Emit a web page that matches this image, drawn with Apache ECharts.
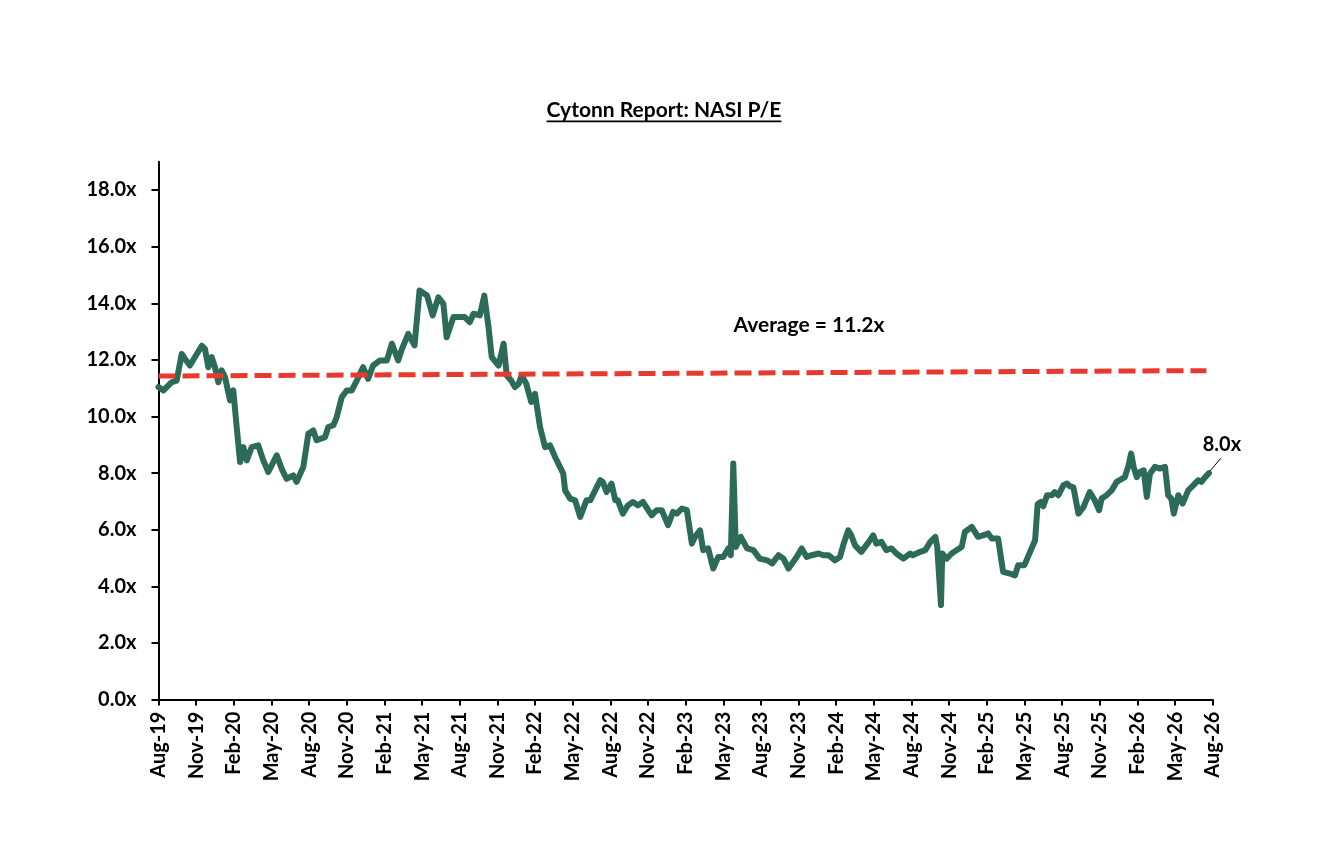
<!DOCTYPE html>
<html>
<head>
<meta charset="utf-8">
<script src="https://cdn.jsdelivr.net/npm/echarts@6/dist/echarts.min.js"></script>
<style>
html, body { margin: 0; padding: 0; background: #fff; }
#chart { width: 1320px; height: 842px; }
</style>
</head>
<body>
<div id="chart"></div>
<script>
// quarter tick labels, one every 3 months from Aug-19
var tickLabels = ["Aug-19", "Nov-19", "Feb-20", "May-20", "Aug-20", "Nov-20", "Feb-21", "May-21", "Aug-21",
	"Nov-21", "Feb-22", "May-22", "Aug-22", "Nov-22", "Feb-23", "May-23", "Aug-23", "Nov-23", "Feb-24",
	"May-24", "Aug-24", "Nov-24", "Feb-25", "May-25", "Aug-25", "Nov-25", "Feb-26", "May-26", "Aug-26"];

// months since Aug-19
var monthIdx = [0, 0.4, 1.05, 1.45, 1.85, 2.1, 2.5, 3.45, 3.7, 3.97, 4.24, 4.5, 4.77, 5.03, 5.3, 5.7, 5.96,
	6.23, 6.5, 6.76, 7.03, 7.43, 7.95, 8.35, 8.75, 9.42, 9.81, 10.2, 10.74, 11.0, 11.54, 11.94, 12.33, 12.6,
	13.27, 13.53, 13.93, 14.2, 14.6, 15.0, 15.4, 15.8, 16.3, 16.7, 17.1, 17.65, 18.2, 18.6, 19.1, 19.4, 19.9,
	20.4, 20.8, 21.4, 21.85, 22.3, 22.7, 22.96, 23.5, 24.0, 24.4, 24.8, 25.1, 25.6, 25.96, 26.3, 26.55, 27.1,
	27.5, 27.75, 28.1, 28.4, 28.7, 28.95, 29.3, 29.7, 30.0, 30.4, 30.8, 31.2, 31.6, 32.25, 32.4, 32.8, 33.2,
	33.6, 34.1, 34.4, 35.2, 35.4, 35.7, 36.1, 36.4, 36.6, 37.0, 37.4, 37.8, 38.2, 38.6, 39.3, 39.7, 40.1,
	40.6, 41.0, 41.3, 41.7, 42.1, 42.5, 42.75, 43.15, 43.4, 43.8, 44.2, 44.6, 45.0, 45.4, 45.6, 45.8, 46.0,
	46.4, 46.9, 47.4, 47.9, 48.5, 48.9, 49.4, 49.8, 50.2, 50.85, 51.25, 51.65, 52.05, 52.6, 52.97, 53.4,
	53.9, 54.3, 54.6, 54.96, 55.2, 55.5, 56.0, 56.6, 56.95, 57.2, 57.6, 58.0, 58.4, 58.8, 59.35, 59.9, 60.1,
	60.7, 61.1, 61.5, 61.9, 62.05, 62.35, 62.45, 62.8, 63.2, 63.6, 64.0, 64.25, 64.8, 65.3, 65.7, 66.1, 66.4,
	66.9, 67.3, 67.85, 68.25, 68.5, 69.0, 69.45, 69.85, 70.05, 70.3, 70.5, 70.8, 71.2, 71.4, 71.7, 72.1,
	72.4, 72.6, 72.9, 73.3, 73.7, 74.2, 74.6, 74.95, 75.15, 75.55, 75.95, 76.35, 77.0, 77.3, 77.5, 77.7,
	77.95, 78.2, 78.5, 78.75, 79.0, 79.4, 79.8, 80.2, 80.45, 80.7, 80.9, 81.26, 81.6, 82.05, 82.45, 82.85,
	83.1, 83.4, 83.7];

var peValues = [11.04, 10.92, 11.21, 11.27, 12.21, 12.04, 11.8, 12.5, 12.39, 11.74, 12.1, 11.74, 11.21, 11.63,
	11.39, 10.57, 10.92, 9.63, 8.39, 8.92, 8.45, 8.92, 8.98, 8.45, 8.04, 8.63, 8.16, 7.8, 7.92, 7.69, 8.22,
	9.39, 9.51, 9.16, 9.27, 9.63, 9.69, 9.98, 10.68, 10.92, 10.92, 11.27, 11.74, 11.33, 11.8, 11.98, 11.98,
	12.57, 11.98, 12.39, 12.92, 12.51, 14.45, 14.27, 13.57, 14.21, 13.98, 12.8, 13.51, 13.51, 13.51, 13.33,
	13.63, 13.57, 14.27, 13.15, 12.1, 11.8, 12.57, 11.45, 11.27, 11.04, 11.16, 11.45, 11.16, 10.51, 10.8,
	9.63, 8.92, 8.98, 8.57, 7.98, 7.39, 7.1, 7.04, 6.45, 7.04, 7.04, 7.75, 7.69, 7.33, 7.63, 7.04, 7.04,
	6.57, 6.86, 6.98, 6.86, 6.98, 6.51, 6.69, 6.69, 6.16, 6.63, 6.57, 6.75, 6.69, 5.51, 5.75, 5.98, 5.28,
	5.34, 4.63, 5.04, 5.04, 5.34, 5.1, 8.34, 5.39, 5.75, 5.34, 5.28, 4.98, 4.92, 4.81, 5.1, 4.98, 4.63,
	5.04, 5.34, 5.04, 5.1, 5.16, 5.1, 5.1, 4.92, 5.04, 5.51, 5.98, 5.8, 5.45, 5.22, 5.57, 5.8, 5.51, 5.57,
	5.28, 5.34, 5.16, 4.98, 5.16, 5.1, 5.22, 5.28, 5.57, 5.75, 5.39, 3.34, 5.16, 4.98, 5.16, 5.28, 5.39,
	5.92, 6.1, 5.75, 5.8, 5.87, 5.69, 5.69, 4.51, 4.45, 4.39, 4.75, 4.75, 5.22, 5.63, 6.9, 6.98, 6.83, 7.22,
	7.22, 7.33, 7.22, 7.57, 7.63, 7.54, 7.5, 6.57, 6.8, 7.33, 7.04, 6.69, 7.1, 7.22, 7.39, 7.69, 7.86, 8.28,
	8.69, 8.22, 7.86, 8.04, 8.1, 7.16, 7.98, 8.22, 8.16, 8.22, 7.22, 7.1, 6.57, 7.22, 6.92, 7.39, 7.57,
	7.75, 7.69, 7.86, 8.0];

// average line endpoints
var avgX = [0, 83.5];
var avgY = [11.43, 11.62];

var yTicks = [0, 2, 4, 6, 8, 10, 12, 14, 16, 18];
var xTicks = tickLabels.map(function (t, i) { return i * 3; });

var titleText = "Cytonn Report: NASI P/E";
var avgText = "Average = 11.2x";
var lastText = "8.0x";

var fontFam = "Lato, 'Open Sans', sans-serif";
var chart = echarts.init(document.getElementById('chart'));

chart.setOption({
	animation: false,
	backgroundColor: '#fff',
	grid: { left: 158.5, right: 107.3, top: 161.7, bottom: 142.4 },
	xAxis: {
		type: 'value',
		min: 0,
		max: 84,
		interval: 3,
		axisLine: { lineStyle: { color: '#000', width: 2 } },
		axisTick: { show: true, length: 6, lineStyle: { color: '#000', width: 2 }, customValues: xTicks },
		axisLabel: {
			customValues: xTicks,
			rotate: 90,
			margin: 12,
			color: '#000',
			fontWeight: 'bold',
			fontSize: 20,
			fontFamily: fontFam,
			formatter: function (v) { return tickLabels[Math.round(v / 3)]; }
		},
		splitLine: { show: false }
	},
	yAxis: {
		type: 'value',
		min: 0,
		max: 19,
		axisLine: { show: true, lineStyle: { color: '#000', width: 2 } },
		axisTick: { show: true, length: 7, lineStyle: { color: '#000', width: 2 }, customValues: yTicks },
		axisLabel: {
			customValues: yTicks,
			margin: 22,
			color: '#000',
			fontWeight: 'bold',
			fontSize: 20,
			fontFamily: fontFam,
			formatter: function (v) { return v.toFixed(1) + 'x'; }
		},
		splitLine: { show: false }
	},
	series: [{
		name: 'NASI P/E',
		type: 'line',
		data: monthIdx.map(function (m, i) { return [m, peValues[i]]; }),
		showSymbol: false,
		lineStyle: { color: '#2D6B59', width: 6, join: 'round', cap: 'round' },
		z: 3
	}, {
		name: 'Average',
		type: 'line',
		data: avgX.map(function (m, i) { return [m, avgY[i]]; }),
		showSymbol: false,
		lineStyle: { color: '#E8392F', width: 5, type: [17, 7] },
		z: 4
	}]
});

// title, average note and last value callout
var ctx = document.createElement('canvas').getContext('2d');
ctx.font = 'bold 21px ' + fontFam;
var titleW = ctx.measureText(titleText).width;
var last = chart.convertToPixel({ gridIndex: 0 }, [monthIdx[monthIdx.length - 1], peValues[peValues.length - 1]]);

chart.setOption({
	graphic: [{
		type: 'text',
		style: { text: titleText, x: 664, y: 110, textAlign: 'center', textVerticalAlign: 'middle', font: 'bold 21px ' + fontFam, fill: '#000' }
	}, {
		type: 'rect',
		shape: { x: 664 - titleW / 2, y: 120.5, width: titleW, height: 1.8 },
		style: { fill: '#000' }
	}, {
		type: 'text',
		style: { text: avgText, x: 809, y: 325, textAlign: 'center', textVerticalAlign: 'middle', font: 'bold 21px ' + fontFam, fill: '#000' }
	}, {
		type: 'line',
		shape: { x1: last[0] + 1, y1: last[1] - 2, x2: last[0] + 12, y2: last[1] - 15 },
		style: { stroke: '#000', lineWidth: 1 }
	}, {
		type: 'text',
		style: { text: lastText, x: last[0] + 13, y: last[1] - 29, textAlign: 'center', textVerticalAlign: 'middle', font: 'bold 20px ' + fontFam, fill: '#000' }
	}]
});
</script>
</body>
</html>
